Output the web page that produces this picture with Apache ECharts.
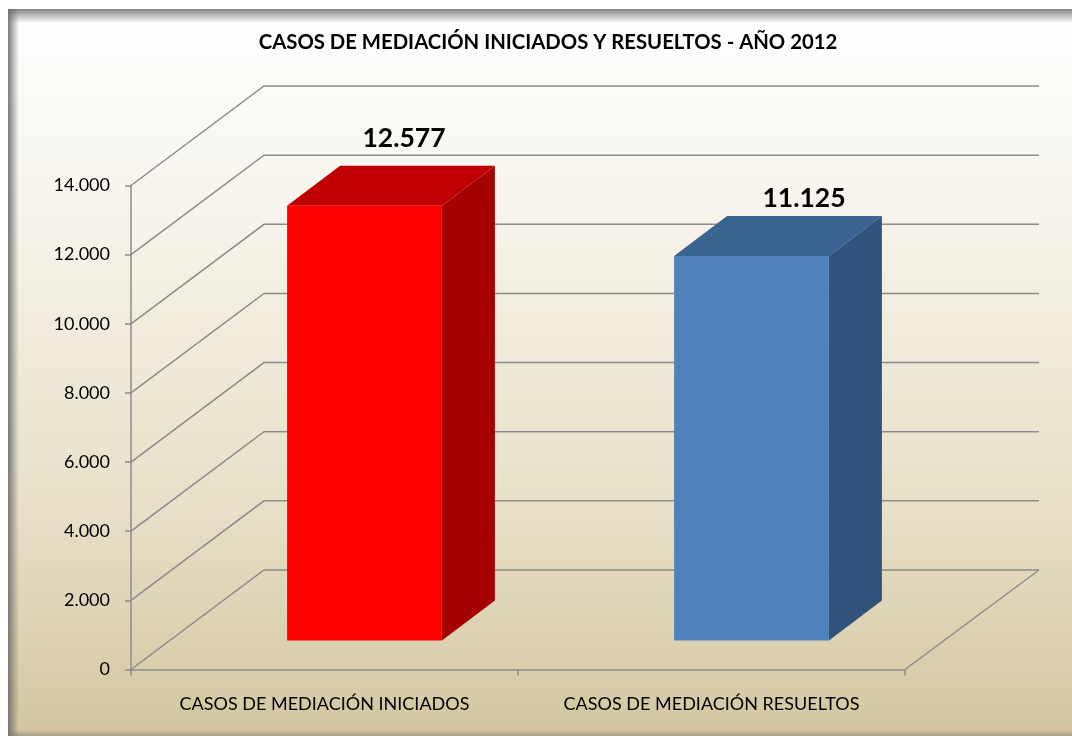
<!DOCTYPE html>
<html>
<head>
<meta charset="utf-8">
<style>html,body{margin:0;padding:0;background:#fff}#c{width:1072px;height:736px}</style>
<script src="https://cdn.jsdelivr.net/npm/echarts@6/dist/echarts.min.js"></script>
</head>
<body>
<div id="c"></div>
<script>
const titleText = 'CASOS DE MEDIACIÓN INICIADOS Y RESUELTOS - AÑO 2012';
const categories = ['CASOS DE MEDIACIÓN INICIADOS', 'CASOS DE MEDIACIÓN RESUELTOS'];
const casesValues = [12577, 11125];
const yTicks = [0, 2000, 4000, 6000, 8000, 10000, 12000, 14000];

// layout / style (kept apart from the data)
const faces = [
  {front: '#ff0000', top: '#c00000', side: '#a60000'},
  {front: '#4f81bd', top: '#3b6392', side: '#30537b'}
];
const wall = {dx: 133, endDx: 134, dy: -99.5};
const barShift = {dx: 40, dy: -29};
const barDepth = {dx: 53, dy: -40};
const labelLift = [67, 57];
const labelShift = [13, 26];
const lineGray = '#8c8c8c';
const dotted = v => String(v).replace(/\B(?=(\d{3})+$)/g, '.');

const chart = echarts.init(document.getElementById('c'), null, {renderer: 'canvas'});

function renderWall(params, api) {
  const cs = params.coordSys;
  const y = api.coord([0, api.value(1)])[1];
  const x0 = cs.x, x1 = cs.x + cs.width;
  const children = [{
    type: 'polyline',
    shape: {points: [[x0, y], [x0 + wall.dx, y + wall.dy], [x1 + wall.endDx, y + wall.dy]]},
    style: {stroke: lineGray, lineWidth: 1.5, fill: null}
  }];
  if (api.value(1) === 0) {
    children.push({
      type: 'line',
      shape: {x1: x1, y1: y, x2: x1 + wall.endDx, y2: y + wall.dy},
      style: {stroke: lineGray, lineWidth: 1.5}
    });
  }
  return {type: 'group', children};
}

function renderBar(params, api) {
  const i = api.value(0);
  const top = api.coord([i, api.value(1)]);
  const base = api.coord([i, 0]);
  const w = api.size([1, 0])[0] * 0.4;
  const l = top[0] - w / 2 + barShift.dx, r = l + w;
  const t = top[1] + barShift.dy, b = base[1] + barShift.dy;
  const dx = barDepth.dx, dy = barDepth.dy;
  const f = faces[i];
  const poly = (pts, fill) => ({type: 'polygon', shape: {points: pts}, style: {fill}});
  return {type: 'group', children: [
    poly([[l, t], [r, t], [r + dx, t + dy], [l + dx, t + dy]], f.top),
    poly([[r, t], [r + dx, t + dy], [r + dx, b + dy], [r, b]], f.side),
    poly([[l, t], [r, t], [r, b], [l, b]], f.front),
    {
      type: 'text',
      style: {
        text: dotted(api.value(1)),
        x: (l + r + dx) / 2 + labelShift[i], y: t - labelLift[i],
        align: 'center', verticalAlign: 'middle',
        font: 'bold 26.5px Lato', fill: '#000'
      }
    }
  ]};
}

chart.setOption({
  animation: false,
  backgroundColor: '#fff',
  title: {
    text: titleText, left: 543, top: 27, textAlign: 'center',
    textStyle: {fontFamily: 'Lato', fontWeight: 'bold', fontSize: 20.3, color: '#000'}
  },
  graphic: {elements: [
    {type: 'rect', z: -100, shape: {x: 8, y: 9, width: 1064, height: 727},
      style: {fill: new echarts.graphic.LinearGradient(0, 0, 0, 1, [
        {offset: 0, color: '#ffffff'}, {offset: 0.3, color: '#f6f3ea'},
        {offset: 0.7, color: '#e7dfc6'}, {offset: 1, color: '#d3c6a1'}])}},
    {type: 'rect', z: -99, shape: {x: 8, y: 9, width: 1064, height: 14},
      style: {fill: new echarts.graphic.LinearGradient(0, 0, 0, 1, [
        {offset: 0, color: 'rgba(120,120,120,0.9)'}, {offset: 1, color: 'rgba(120,120,120,0)'}])}},
    {type: 'rect', z: -99, shape: {x: 8, y: 9, width: 11, height: 727},
      style: {fill: new echarts.graphic.LinearGradient(0, 0, 1, 0, [
        {offset: 0, color: 'rgba(110,110,110,0.9)'}, {offset: 1, color: 'rgba(110,110,110,0)'}])}},
    {type: 'rect', z: -99, shape: {x: 8, y: 730, width: 1064, height: 6},
      style: {fill: new echarts.graphic.LinearGradient(0, 0, 0, 1, [
        {offset: 0, color: 'rgba(110,110,110,0)'}, {offset: 1, color: 'rgba(110,110,110,0.45)'}])}}
  ]},
  grid: {left: 131, width: 774, top: 185.5, height: 484},
  xAxis: {
    type: 'category', data: categories,
    axisLine: {lineStyle: {color: lineGray, width: 1.5}},
    axisTick: {show: true, length: 6, lineStyle: {color: lineGray, width: 1.5}},
    axisLabel: {color: '#000', fontFamily: 'Lato', fontSize: 18, margin: 26, interval: 0}
  },
  yAxis: {
    type: 'value', min: 0, max: 14000, interval: 2000,
    axisLine: {show: true, lineStyle: {color: lineGray, width: 1.5}},
    axisTick: {show: true, length: 6, lineStyle: {color: lineGray, width: 1.5}},
    splitLine: {show: false},
    axisLabel: {color: '#000', fontFamily: 'Lato', fontSize: 18, margin: 21, padding: [3, 0, 0, 0], formatter: dotted}
  },
  series: [
    {type: 'custom', name: 'walls', renderItem: renderWall, silent: true, z: 1, clip: false,
      encode: {x: 0, y: 1}, data: yTicks.map(v => [0, v])},
    {type: 'custom', name: 'casos', renderItem: renderBar, z: 3, clip: false,
      encode: {x: 0, y: 1}, data: casesValues.map((v, i) => [i, v])}
  ]
});
</script>
</body>
</html>
